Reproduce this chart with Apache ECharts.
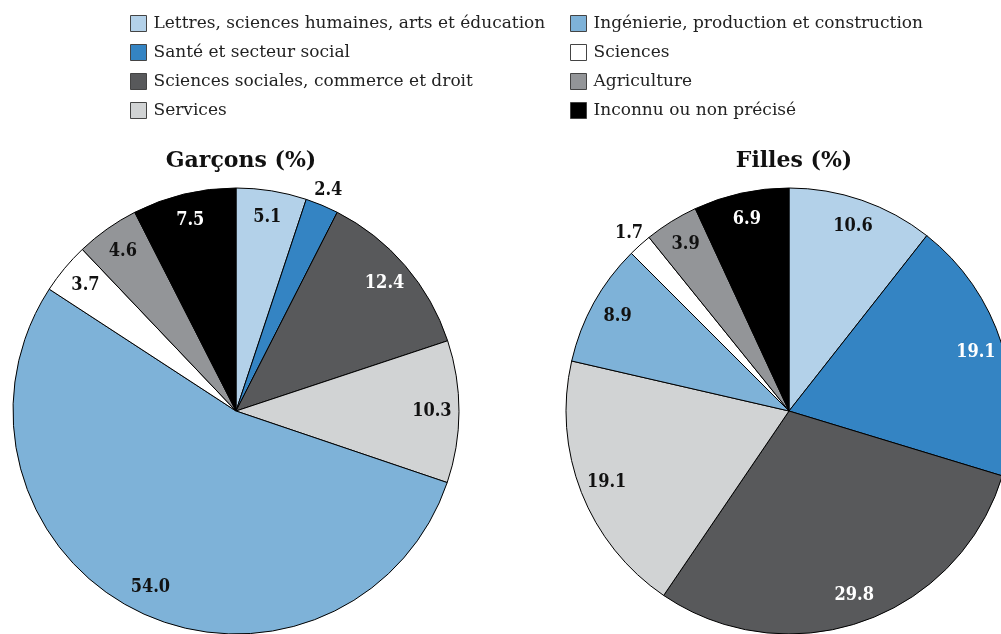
<!DOCTYPE html>
<html>
<head>
<meta charset="utf-8">
<script src="https://cdn.jsdelivr.net/npm/echarts@6/dist/echarts.min.js"></script>
<style>
html,body{margin:0;padding:0;background:#fff;}
#c{width:1001px;height:634px;}
</style>
</head>
<body>
<div id="c"></div>
<script>
// ---- data ----
const categories = [
  "Lettres, sciences humaines, arts et éducation",
  "Santé et secteur social",
  "Sciences sociales, commerce et droit",
  "Services",
  "Ingénierie, production et construction",
  "Sciences",
  "Agriculture",
  "Inconnu ou non précisé"
];
const garcons = [5.1, 2.4, 12.4, 10.3, 54.0, 3.7, 4.6, 7.5];
const filles  = [10.6, 19.1, 29.8, 19.1, 8.9, 1.7, 3.9, 6.9];
const titles = ["Garçons (%)", "Filles (%)"];

// ---- style ----
const colors = ["#b3d1e9", "#3484c3", "#58595b", "#d1d3d4", "#7eb2d8", "#ffffff", "#939598", "#000000"];
const labelColors = ["#111", "#fff", "#fff", "#111", "#111", "#111", "#111", "#fff"];
const labelFont = "'DejaVu Serif Condensed', 'DejaVu Serif', serif";
const titleFont = "'DejaVu Serif', serif";
const legendFont = "'DejaVu Serif', serif";
const R = 223;
const centers = [[236, 411], [789, 411]];
const OUTSIDE_THRESHOLD = 3; // tiny slices get their value outside the pie

function mainSeries(vals, center) {
  return {
    type: 'pie', center: center, radius: [0, R], startAngle: 90, clockwise: true,
    silent: true, label: {show: false}, labelLine: {show: false},
    itemStyle: {borderColor: '#000', borderWidth: 1},
    data: vals.map((v, i) => ({name: categories[i], value: v, itemStyle: {color: colors[i]}}))
  };
}
function labelSeries(vals, center, inner) {
  return {
    type: 'pie', center: center, radius: inner ? [R * 0.77, R * 0.96] : [R, R * 1.12],
    startAngle: 90, clockwise: true, silent: true, legendHoverLink: false,
    itemStyle: {color: 'rgba(0,0,0,0)', borderWidth: 0},
    labelLine: {show: false},
    data: vals.map((v, i) => {
      const out = v < OUTSIDE_THRESHOLD;
      const show = inner ? !out : out;
      return {
        name: categories[i] + (inner ? ' ' : '  '), value: v,
        label: {
          show: show, position: 'inside',
          color: inner ? labelColors[i] : '#111',
          fontFamily: labelFont, fontWeight: 'bold', fontSize: 18,
          formatter: (p) => p.value.toFixed(1)
        }
      };
    })
  };
}

const legendCommon = {
  orient: 'vertical', icon: 'rect', itemWidth: 16, itemHeight: 16, itemGap: 12,
  selectedMode: false,
  textStyle: {fontFamily: legendFont, fontSize: 17, color: '#222', padding: [0, 0, 0, 2]},
  itemStyle: {borderColor: '#444', borderWidth: 1}
};

const chart = echarts.init(document.getElementById('c'), null, {renderer: 'canvas'});
chart.setOption({
  animation: false,
  backgroundColor: '#fff',
  title: [
    {text: titles[0], left: centers[0][0], top: 145, textAlign: 'center',
     textStyle: {fontFamily: titleFont, fontWeight: 'bold', fontSize: 22, color: '#111'}},
    {text: titles[1], left: centers[1][0], top: 145, textAlign: 'center',
     textStyle: {fontFamily: titleFont, fontWeight: 'bold', fontSize: 22, color: '#111'}}
  ],
  legend: [
    Object.assign({left: 125, top: 10, data: categories.slice(0, 4)}, legendCommon),
    Object.assign({left: 565, top: 10, data: categories.slice(4)}, legendCommon)
  ],
  series: [
    mainSeries(garcons, centers[0]),
    mainSeries(filles, centers[1]),
    labelSeries(garcons, centers[0], true),
    labelSeries(garcons, centers[0], false),
    labelSeries(filles, centers[1], true),
    labelSeries(filles, centers[1], false)
  ]
});
</script>
</body>
</html>
